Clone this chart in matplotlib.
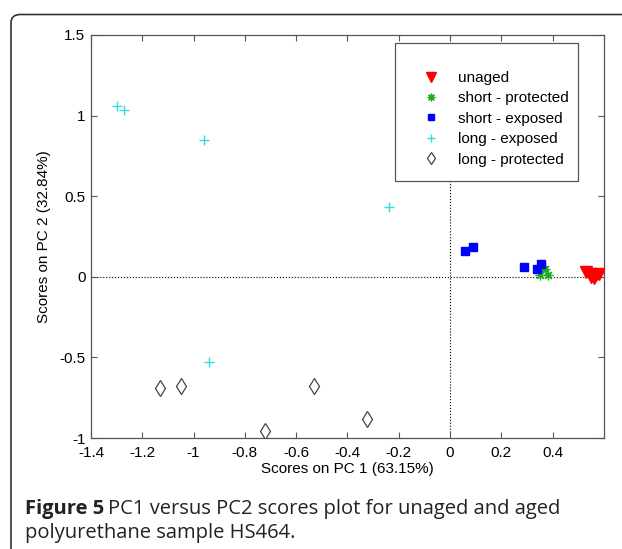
import matplotlib
matplotlib.use('Agg')
import matplotlib.pyplot as plt
from matplotlib.patches import FancyBboxPatch, Rectangle

# PCA scores
unaged_x = [0.53, 0.55, 0.56, 0.57, 0.58, 0.55]
unaged_y = [0.03, 0.02, -0.01, 0.01, 0.02, 0.0]
short_prot_x = [0.36, 0.35, 0.38, 0.37]
short_prot_y = [0.07, 0.01, 0.01, 0.05]
short_exp_x = [0.06, 0.09, 0.29, 0.34, 0.355]
short_exp_y = [0.16, 0.185, 0.06, 0.05, 0.08]
long_exp_x = [-1.30, -1.27, -0.96, -0.24, -0.94]
long_exp_y = [1.06, 1.035, 0.85, 0.43, -0.53]
long_prot_x = [-1.13, -1.05, -0.72, -0.53, -0.325]
long_prot_y = [-0.69, -0.675, -0.955, -0.675, -0.88]

xticks = [-1.4, -1.2, -1, -0.8, -0.6, -0.4, -0.2, 0, 0.2, 0.4]
xticklabels = ['-1.4', '-1.2', '-1', '-0.8', '-0.6', '-0.4', '-0.2', '0', '0.2', '0.4']
yticks = [-1, -0.5, 0, 0.5, 1, 1.5]
yticklabels = ['-1', '-0.5', '0', '0.5', '1', '1.5']

plt.rcParams['font.family'] = ['Liberation Sans', 'DejaVu Sans']

fig = plt.figure(figsize=(6.22, 5.49), dpi=100)
W, H = 622.0, 549.0
ax = fig.add_axes([91/W, 1 - 438/H, (604-91)/W, (438-35)/H])

ax.axvline(0, color='k', ls=':', lw=0.8, zorder=1)
ax.axhline(0, color='k', ls=':', lw=0.8, zorder=1)

ax.plot(unaged_x, unaged_y, 'v', color='red', ms=9, ls='none', label='unaged', zorder=3)
ax.plot(short_prot_x, short_prot_y, marker=(8, 2, 0), color='#22aa22', ms=7, mew=0.9,
        ls='none', label='short - protected', zorder=3)
ax.plot(short_exp_x, short_exp_y, 's', color='blue', ms=6, ls='none', label='short - exposed', zorder=3)
ax.plot(long_exp_x, long_exp_y, '+', color='#33dddd', ms=7.5, mew=1.0, ls='none',
        label='long - exposed', zorder=3)
ax.plot(long_prot_x, long_prot_y, 'd', color='#444444', mfc='white', ms=8, mew=0.9, ls='none',
        label='long - protected', zorder=3)

ax.set_xlim(-1.4, 0.6)
ax.set_ylim(-1, 1.5)
ax.set_xticks(xticks)
ax.set_xticklabels(xticklabels)
ax.set_yticks(yticks)
ax.set_yticklabels(yticklabels)
ax.tick_params(direction='in', top=True, right=True, labelsize=11, length=4, width=0.8,
               colors='#555555', labelcolor='black')
ax.tick_params(axis='x', pad=6)
ax.tick_params(axis='y', pad=4)
for s in ax.spines.values():
    s.set_color('#555555')
    s.set_linewidth(0.9)

ax.set_xlabel('Scores on PC 1 (63.15%)', fontsize=11)
ax.xaxis.set_label_coords(0.5, (438-462)/403.0)
ax.set_ylabel('Scores on PC 2 (32.84%)', fontsize=11)
ax.yaxis.set_label_coords((51-91)/513.0, 0.5)

# legend entries without frame, frame drawn as box
ax_w, ax_h = 513.0, 403.0
leg = ax.legend(loc='upper left', bbox_to_anchor=((416-91)/ax_w, (438-71)/ax_h),
                fontsize=11, frameon=False, borderpad=0, handlelength=2.0,
                handletextpad=0.75, labelspacing=0.42, borderaxespad=0, markerscale=0.8)
box = Rectangle(((395-91)/ax_w, (438-181)/ax_h), (578-395)/ax_w, (181-43)/ax_h,
                transform=ax.transAxes, fill=True, facecolor='white',
                edgecolor='#555555', lw=0.9, zorder=4)
ax.add_patch(box)
leg.set_zorder(5)

# outer rounded frame
frame = FancyBboxPatch((11/W, -0.05), 1.2, 1 - 14.5/H + 0.05,
                       boxstyle='round,pad=0,rounding_size=0.015',
                       transform=fig.transFigure, fill=False, edgecolor='#333333',
                       lw=1.2, clip_on=False)
fig.patches.append(frame)

cap_font = ['Open Sans', 'DejaVu Sans']
t1 = fig.text(25/W, 1 - 514/H, 'Figure 5', fontsize=14.5, fontweight='bold',
              family=cap_font, va='baseline', color='#222222')
fig.canvas.draw()
bb = t1.get_window_extent()
fig.text((bb.x1 + 4)/W, 1 - 514/H, 'PC1 versus PC2 scores plot for unaged and aged',
         fontsize=14.5, family=cap_font, va='baseline', color='#222222')
fig.text(25/W, 1 - 538/H, 'polyurethane sample HS464.', fontsize=14.5,
         family=cap_font, va='baseline', color='#222222')

fig.savefig('out.png', dpi=100)
